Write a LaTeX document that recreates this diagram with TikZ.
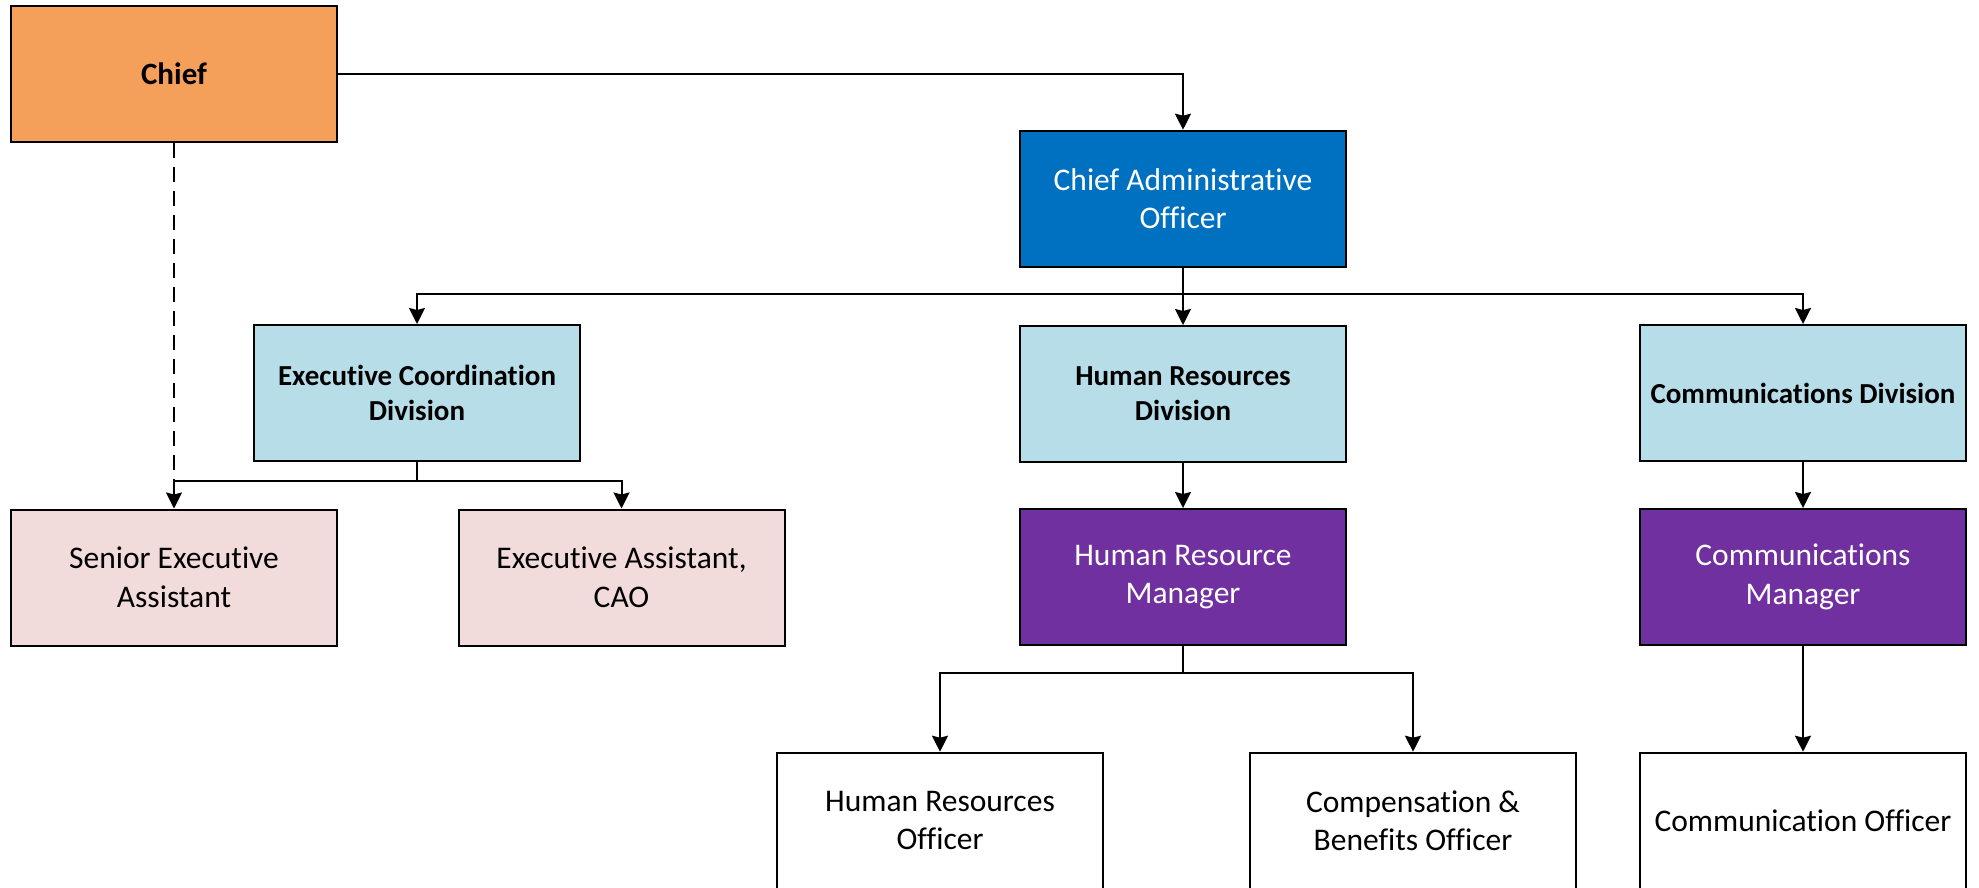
\documentclass[tikz,border=0pt]{standalone}
\usepackage{fontspec}
\setmainfont{Carlito}[Ligatures={NoCommon}]
\usetikzlibrary{arrows.meta}
\definecolor{chieforange}{HTML}{F5A05A}
\definecolor{caoblue}{HTML}{0070C0}
\definecolor{divblue}{HTML}{B7DDE8}
\definecolor{mgrpurple}{HTML}{7030A0}
\definecolor{asstpink}{HTML}{F2DCDB}
\begin{document}
\begin{tikzpicture}[x=1pt,y=-1pt,
  box/.style={draw=black, line width=2pt, minimum width=326pt, minimum height=136pt, inner sep=0pt, align=center, font=\fontsize{31.5}{38.5}\selectfont},
  boldbox/.style={box, font=\fontsize{29}{35}\selectfont\bfseries},
  conn/.style={line width=2pt},
  arr/.style={conn, -{Stealth[length=16pt,width=16pt,inset=2pt]}},
]
\useasboundingbox (0,0) rectangle (1979,887);
\clip (0,0) rectangle (1979,887);
\fill[white] (0,0) rectangle (1979,887);

\node[box, fill=chieforange, font=\fontsize{31}{38}\selectfont\bfseries] (chief) at (174,74) {Chief};
\node[box, fill=caoblue, text=white] (cao) at (1183,198.7) {Chief Administrative\\Officer};
\node[boldbox, fill=divblue] (ecd) at (417,393) {Executive Coordination\\Division};
\node[boldbox, fill=divblue] (hrd) at (1183,394) {Human Resources\\Division};
\node[boldbox, fill=divblue] (cd) at (1803,393) {Communications Division};
\node[box, fill=asstpink] (sea) at (174,577.5) {Senior Executive\\Assistant};
\node[box, fill=asstpink] (ea) at (621.5,577.5) {Executive Assistant,\\CAO};
\node[box, fill=mgrpurple, text=white] (hrm) at (1183,577) {Human Resource\\Manager};
\node[box, fill=mgrpurple, text=white] (cm) at (1803,577) {Communications\\Manager};
\node[box, fill=white] (hro) at (940,820.7) {Human Resources\\Officer};
\node[box, fill=white] (cbo) at (1413,820.7) {Compensation \&\\Benefits Officer};
\node[box, fill=white] (co) at (1803,820.7) {Communication Officer};

\coordinate (b1) at (0,294);
\coordinate (b2) at (0,481);
\coordinate (b3) at (0,673);

\draw[arr] (chief.east) -| (cao.north);

\draw[arr] (cao.south) -- (cao.south |- b1) -| (ecd.north);
\draw[arr] (cao.south) -- (hrd.north);
\draw[arr] (cao.south |- b1) -| (cd.north);

\draw[conn, dash pattern=on 15pt off 9pt] (chief.south) -- (chief.south |- b2);
\draw[arr] (ecd.south) -- (ecd.south |- b2) -| (sea.north);
\draw[arr] (ecd.south |- b2) -| (ea.north);

\draw[arr] (hrd.south) -- (hrm.north);
\draw[arr] (cd.south) -- (cm.north);

\draw[arr] (hrm.south) -- (hrm.south |- b3) -| (hro.north);
\draw[arr] (hrm.south |- b3) -| (cbo.north);
\draw[arr] (cm.south) -- (co.north);
\end{tikzpicture}
\end{document}
